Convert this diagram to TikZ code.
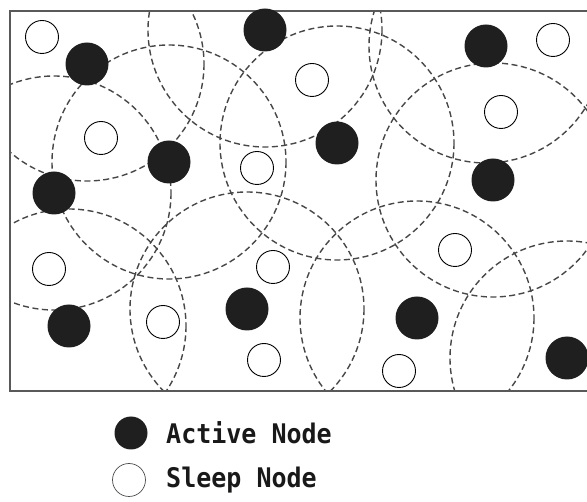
\documentclass[tikz,border=0pt]{standalone}
\usepackage{fontspec}
\newfontfamily\legendfont{DejaVu Sans Mono}
\usetikzlibrary{backgrounds}
\tikzset{
  active/.style={circle,fill=black!88,draw=none,minimum size=43pt,inner sep=0pt},
  sleep/.style={circle,fill=white,draw=black,line width=0.9pt,minimum size=33pt,inner sep=0pt},
  legact/.style={circle,fill=black!88,draw=none,minimum size=33pt,inner sep=0pt},
  legsleep/.style={circle,fill=white,draw=black!70,line width=0.7pt,minimum size=33pt,inner sep=0pt},
  sensrange/.style={draw=black!72,line width=1.4pt,dash pattern=on 6pt off 3.5pt},
  frameline/.style={draw=black!65,line width=1.2pt},
  legtext/.style={anchor=west,inner sep=0pt,font=\legendfont\bfseries\fontsize{25}{25}\selectfont,text=black!90}
}
\newcommand{\legstretch}[1]{\scalebox{1}[1.08]{#1}}
\begin{document}
\begin{tikzpicture}[x=1pt,y=-1pt]
\useasboundingbox (0,0) rectangle (587,502);
% frame
\draw[frameline] (588,11) -- (10,11) -- (10,391) -- (588,391);
% active nodes
\node[active] (a1) at (87,64) {};
\node[active] (a2) at (265,30) {};
\node[active] (a3) at (169,162) {};
\node[active] (a4) at (54,193) {};
\node[active] (a5) at (337,143) {};
\node[active] (a6) at (486,46) {};
\node[active] (a7) at (493,180) {};
\node[active] (a8) at (69,326) {};
\node[active] (a9) at (247,309) {};
\node[active] (a10) at (417,318) {};
\node[active] (a11) at (567,358) {};
% sleep nodes
\node[sleep] (s1) at (42,37) {};
\node[sleep] (s2) at (101,138) {};
\node[sleep] (s3) at (257,168) {};
\node[sleep] (s4) at (312,80) {};
\node[sleep] (s5) at (501,112) {};
\node[sleep] (s6) at (553,40) {};
\node[sleep] (s7) at (49,269) {};
\node[sleep] (s8) at (163,322) {};
\node[sleep] (s9) at (273,267) {};
\node[sleep] (s10) at (264,360) {};
\node[sleep] (s11) at (455,250) {};
\node[sleep] (s12) at (399,371) {};
% sensing ranges
\begin{scope}[on background layer]
  \clip (10,11) rectangle (600,391);
  \foreach \n in {a1,a2,a3,a4,a5,a6,a7,a8,a9,a10,a11}
    \draw[sensrange] (\n.center) circle (117);
\end{scope}
% legend
\node[legact] (la) at (131,433) {};
\node[legsleep] (ls) at (129,480) {};
\node[legtext] (lta) at (166,433) {\legstretch{Active Node}};
\node[legtext] (lts) at (166,480) {\legstretch{Sleep Node}};
\end{tikzpicture}
\end{document}
